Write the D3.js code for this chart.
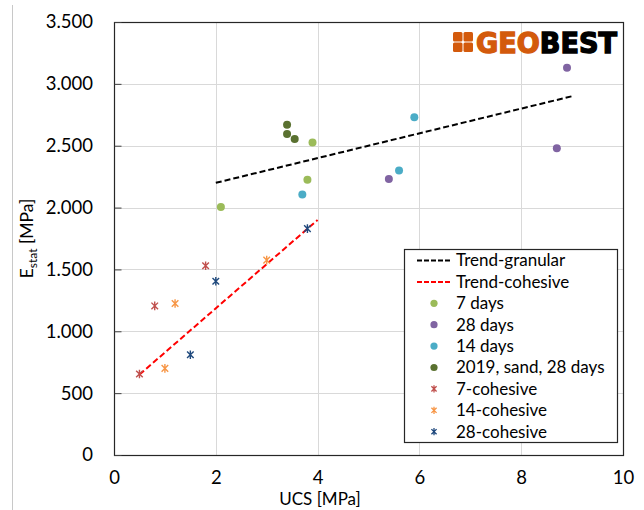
<!DOCTYPE html>
<meta charset="utf-8">
<style>
body { margin: 0; background: #fff; }
text { font-family: Lato, "Open Sans", sans-serif; fill: #000; }
</style>
<body>
<div id="chart"></div>
<script src="https://cdn.jsdelivr.net/npm/d3@7"></script>
<script>
// values: [UCS MPa, Estat MPa]
var days7 = [[2.1, 2005], [3.8, 2225], [3.9, 2525]];
var days28 = [[5.4, 2230], [8.9, 3130], [8.7, 2480]];
var days14 = [[5.9, 2730], [5.6, 2300], [3.7, 2105]];
var sand2019 = [[3.4, 2670], [3.4, 2595], [3.55, 2555]];
var coh7 = [[0.5, 655], [0.8, 1205], [1.8, 1530]];
var coh14 = [[1.0, 700], [1.2, 1225], [3.0, 1575]];
var coh28 = [[1.5, 810], [2.0, 1405], [3.8, 1830]];
var trendGranular = [[2, 2200], [9, 2900]];
var trendCohesive = [[0.5, 650], [4, 1900]];

var xTicks = [0, 2, 4, 6, 8, 10];
var yTicks = [0, 500, 1000, 1500, 2000, 2500, 3000, 3500];

var width = 644, height = 510;
var margin = {left: 114, top: 22, right: 21, bottom: 55};

var svg = d3.select("#chart").append("svg")
    .attr("width", width)
    .attr("height", height);

// thin grey frame line on the left edge of the picture
svg.append("line")
    .attr("x1", 12.5).attr("x2", 12.5)
    .attr("y1", 5).attr("y2", height)
    .attr("stroke", "#c8c8c8");

var x = d3.scaleLinear().domain([0, 10]).range([margin.left, width - margin.right]);
var y = d3.scaleLinear().domain([0, 3500]).range([height - margin.bottom, margin.top]);

var fmt = d3.formatLocale({decimal: ",", thousands: ".", grouping: [3], currency: ["", ""]}).format(",d");

// grid
svg.append("g").selectAll("line")
  .data(yTicks.slice(1, -1))
  .enter().append("line")
    .attr("x1", x(0)).attr("x2", x(10))
    .attr("y1", function(d) { return Math.round(y(d)) + 0.5; })
    .attr("y2", function(d) { return Math.round(y(d)) + 0.5; })
    .attr("stroke", "#d9d9d9");
svg.append("g").selectAll("line")
  .data(xTicks.slice(1, -1))
  .enter().append("line")
    .attr("y1", y(0)).attr("y2", y(3500))
    .attr("x1", function(d) { return Math.round(x(d)) + 0.5; })
    .attr("x2", function(d) { return Math.round(x(d)) + 0.5; })
    .attr("stroke", "#d9d9d9");

// frame
svg.append("rect")
    .attr("x", x(0) + 0.5).attr("y", y(3500) + 0.5)
    .attr("width", x(10) - x(0)).attr("height", y(0) - y(3500))
    .attr("fill", "none").attr("stroke", "#262626").attr("stroke-width", 1.2);

// axes
var yAxis = svg.append("g")
    .attr("transform", "translate(" + (x(0) + 0.5) + ",0)")
    .call(d3.axisRight(y).tickValues(yTicks).tickSize(7).tickFormat(""));
yAxis.select(".domain").remove();
yAxis.selectAll("line").attr("stroke", "#404040");

svg.append("g").selectAll("text")
  .data(yTicks)
  .enter().append("text")
    .attr("x", 93)
    .attr("y", function(d) { return y(d); })
    .attr("dy", "0.35em")
    .attr("text-anchor", "end")
    .style("font-size", "18.5px")
    .text(fmt);

var xAxis = svg.append("g")
    .attr("transform", "translate(0," + y(0) + ")")
    .call(d3.axisBottom(x).tickValues(xTicks).tickSize(0).tickPadding(16));
xAxis.select(".domain").remove();
xAxis.selectAll("text").style("font-size", "18.5px").attr("fill", "#000")
    .style("font-family", "Lato, sans-serif");

svg.append("text")
    .attr("x", 320).attr("y", 505)
    .attr("text-anchor", "middle")
    .style("font-size", "17px")
    .text("UCS [MPa]");

var yt = svg.append("text")
    .attr("transform", "translate(33," + ((y(0) + y(3500)) / 2) + ") rotate(-90)")
    .attr("text-anchor", "middle")
    .style("font-size", "17.5px");
yt.append("tspan").text("E");
yt.append("tspan").attr("dy", 4).style("font-size", "12px").text("stat");
yt.append("tspan").attr("dy", -4).text(" [MPa]");

// trend lines
var line = d3.line().x(function(d) { return x(d[0]); }).y(function(d) { return y(d[1]); });
svg.append("path").datum(trendGranular).attr("d", line)
    .attr("fill", "none").attr("stroke", "#000").attr("stroke-width", 2).attr("stroke-dasharray", "6,3");
svg.append("path").datum(trendCohesive).attr("d", line)
    .attr("fill", "none").attr("stroke", "#ff0000").attr("stroke-width", 2).attr("stroke-dasharray", "6,3");

// markers
function starPath(s) {
  return "M" + (-s) + "," + (-s) + "L" + s + "," + s +
         "M" + (-s) + "," + s + "L" + s + "," + (-s) +
         "M0," + (-s - 1) + "L0," + (s + 1);
}

var dotSeries = [
  {name: "7 days", data: days7, color: "#9bbb59"},
  {name: "28 days", data: days28, color: "#8064a2"},
  {name: "14 days", data: days14, color: "#4bacc6"},
  {name: "2019, sand, 28 days", data: sand2019, color: "#5a7130"}
];
var starSeries = [
  {name: "7-cohesive", data: coh7, color: "#c0504d"},
  {name: "14-cohesive", data: coh14, color: "#f79646"},
  {name: "28-cohesive", data: coh28, color: "#1f497d"}
];

dotSeries.forEach(function(s) {
  svg.append("g").selectAll("circle")
    .data(s.data)
    .enter().append("circle")
      .attr("cx", function(d) { return x(d[0]); })
      .attr("cy", function(d) { return y(d[1]); })
      .attr("r", 4)
      .attr("fill", s.color);
});
starSeries.forEach(function(s) {
  svg.append("g").selectAll("path")
    .data(s.data)
    .enter().append("path")
      .attr("transform", function(d) { return "translate(" + x(d[0]) + "," + y(d[1]) + ")"; })
      .attr("d", starPath(3.3))
      .attr("fill", "none")
      .attr("stroke", s.color)
      .attr("stroke-width", 1.4);
});

// logo
var logo = svg.append("g");
[[0, 0], [1, 0], [0, 1], [1, 1]].forEach(function(c) {
  logo.append("rect")
      .attr("x", 453 + c[0] * 10.5).attr("y", 32 + c[1] * 10.5)
      .attr("width", 9.5).attr("height", 9.5)
      .attr("rx", 1.5)
      .attr("fill", "#d35a0c");
});
var logoText = logo.append("text")
    .attr("x", 476).attr("y", 53)
    .attr("textLength", 141).attr("lengthAdjust", "spacingAndGlyphs")
    .style("font-family", "'DejaVu Sans'").style("font-weight", "bold").style("font-size", "29px")
    .style("stroke-width", 1.4);
logoText.append("tspan").style("fill", "#d35a0c").style("stroke", "#d35a0c").text("GEO");
logoText.append("tspan").style("fill", "#000").style("stroke", "#000").text("BEST");

// legend
var legend = svg.append("g");
legend.append("rect")
    .attr("x", 404.5).attr("y", 249.5)
    .attr("width", 213).attr("height", 193)
    .attr("fill", "#fff").attr("stroke", "#262626").attr("stroke-width", 1.2);

var legendItems = [
  {name: "Trend-granular", type: "line", color: "#000"},
  {name: "Trend-cohesive", type: "line", color: "#ff0000"}
].concat(dotSeries.map(function(s) { return {name: s.name, type: "dot", color: s.color}; }))
 .concat(starSeries.map(function(s) { return {name: s.name, type: "star", color: s.color}; }));

var li = legend.selectAll("g.item")
  .data(legendItems)
  .enter().append("g")
    .attr("class", "item")
    .attr("transform", function(d, i) { return "translate(0," + (260.5 + i * 21.4) + ")"; });

li.each(function(d) {
  var g = d3.select(this);
  if (d.type === "line") {
    g.append("line").attr("x1", 417).attr("x2", 452)
      .attr("stroke", d.color).attr("stroke-width", 2).attr("stroke-dasharray", "5,2");
  } else if (d.type === "dot") {
    g.append("circle").attr("cx", 434).attr("r", 3.6).attr("fill", d.color);
  } else {
    g.append("path").attr("transform", "translate(434,0)").attr("d", starPath(2.6))
      .attr("fill", "none").attr("stroke", d.color).attr("stroke-width", 1.3);
  }
  g.append("text")
    .attr("x", 456).attr("dy", "0.35em")
    .style("font-size", "17px")
    .text(d.name);
});
</script>
</body>
